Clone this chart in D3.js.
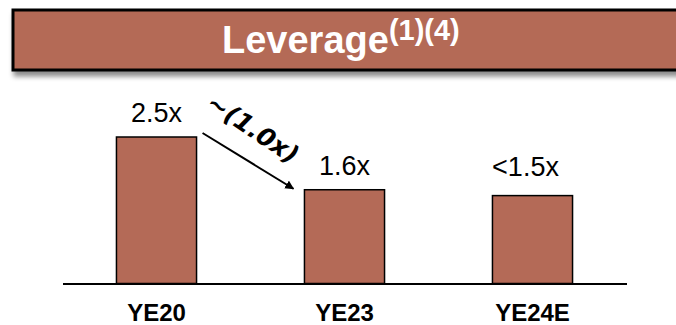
<!DOCTYPE html>
<html>
<head>
<meta charset="utf-8">
<script src="https://cdn.jsdelivr.net/npm/d3@7"></script>
<style>
  html, body { margin: 0; padding: 0; background: #fff; }
  svg { display: block; }
</style>
</head>
<body>
<svg id="chart" width="676" height="325"></svg>
<script>
const categories = ["YE20", "YE23", "YE24E"];
const values = [2.5, 1.6, 1.5];
const valueLabels = ["2.5x", "1.6x", "<1.5x"];
const titleMain = "Leverage";
const titleSup = "(1)(4)";
const changeLabel = "~(1.0x)";

const W = 676, H = 325;
const barColor = "#B46A57";
const svg = d3.select("#chart");

const defs = svg.append("defs");
const f = defs.append("filter").attr("id", "shadow")
  .attr("x", "-5%").attr("y", "-20%").attr("width", "115%").attr("height", "160%");
f.append("feDropShadow").attr("dx", 2).attr("dy", 5).attr("stdDeviation", 2.5)
  .attr("flood-color", "#000").attr("flood-opacity", 0.45);
const m = defs.append("marker").attr("id", "arrow")
  .attr("viewBox", "0 0 10 10").attr("refX", 9).attr("refY", 5)
  .attr("markerWidth", 9).attr("markerHeight", 9).attr("markerUnits", "userSpaceOnUse")
  .attr("orient", "auto");
m.append("path").attr("d", "M0,0 L10,5 L0,10 z").attr("fill", "#000");

// Header
svg.append("rect")
  .attr("x", 13).attr("y", 10).attr("width", 680).attr("height", 60)
  .attr("fill", barColor).attr("stroke", "#000").attr("stroke-width", 3)
  .attr("filter", "url(#shadow)");

const title = svg.append("text")
  .attr("x", 222).attr("y", 53)
  .attr("font-family", "Liberation Sans, Arial, sans-serif")
  .attr("font-weight", "bold").attr("fill", "#fff");
title.append("tspan").attr("font-size", 38).text(titleMain);
title.append("tspan").attr("font-size", 29).attr("dy", -13).text(titleSup);

// Chart
const x = d3.scaleBand().domain(categories).range([62.5, 626.5]).paddingInner(0.574).paddingOuter(0.287);
const y = d3.scaleLinear().domain([0, 2.5]).range([283.5, 137]);

svg.selectAll("rect.bar").data(values).join("rect")
  .attr("class", "bar")
  .attr("x", (d, i) => x(categories[i]))
  .attr("y", d => y(d))
  .attr("width", x.bandwidth())
  .attr("height", d => y(0) - y(d))
  .attr("fill", barColor).attr("stroke", "#000").attr("stroke-width", 1.5);

const xAxis = svg.append("g").attr("transform", `translate(0,${y(0)})`)
  .call(d3.axisBottom(x).tickSize(0).tickPadding(0).tickFormat(""));
xAxis.select(".domain").attr("stroke", "#000").attr("stroke-width", 2);

svg.selectAll("text.cat").data(categories).join("text")
  .attr("class", "cat")
  .attr("x", d => x(d) + x.bandwidth() / 2)
  .attr("y", 320.5)
  .attr("text-anchor", "middle")
  .attr("font-family", "Liberation Sans, Arial, sans-serif")
  .attr("font-weight", "bold").attr("font-size", 24).attr("fill", "#000")
  .text(d => d);

svg.selectAll("text.val").data(values).join("text")
  .attr("class", "val")
  .attr("x", (d, i) => x(categories[i]) + x.bandwidth() / 2 - (i === 2 ? 7 : 0))
  .attr("y", (d, i) => y(d) - (i === 2 ? 20 : 15))
  .attr("text-anchor", "middle")
  .attr("font-family", "Liberation Sans, Arial, sans-serif")
  .attr("font-size", 27).attr("fill", "#000")
  .text((d, i) => valueLabels[i]);

// Arrow between YE20 and YE23
const x0 = x(categories[0]) + x.bandwidth() + 6, y0 = y(values[0]) - 4;
const x1 = x(categories[1]) - 11, y1 = y(values[1]) - 1;
svg.append("line")
  .attr("x1", x0).attr("y1", y0).attr("x2", x1).attr("y2", y1)
  .attr("stroke", "#000").attr("stroke-width", 2)
  .attr("marker-end", "url(#arrow)");
const ang = Math.atan2(y1 - y0, x1 - x0) * 180 / Math.PI;
svg.append("text")
  .attr("transform", `translate(${(x0 + x1) / 2 + 4},${(y0 + y1) / 2 - 31}) rotate(${ang + 2})`)
  .attr("text-anchor", "middle").attr("dominant-baseline", "middle")
  .attr("font-family", "DejaVu Sans, Liberation Sans, sans-serif")
  .attr("font-weight", "bold").attr("font-style", "italic")
  .attr("font-size", 25).attr("fill", "#000")
  .text(changeLabel);
</script>
</body>
</html>
